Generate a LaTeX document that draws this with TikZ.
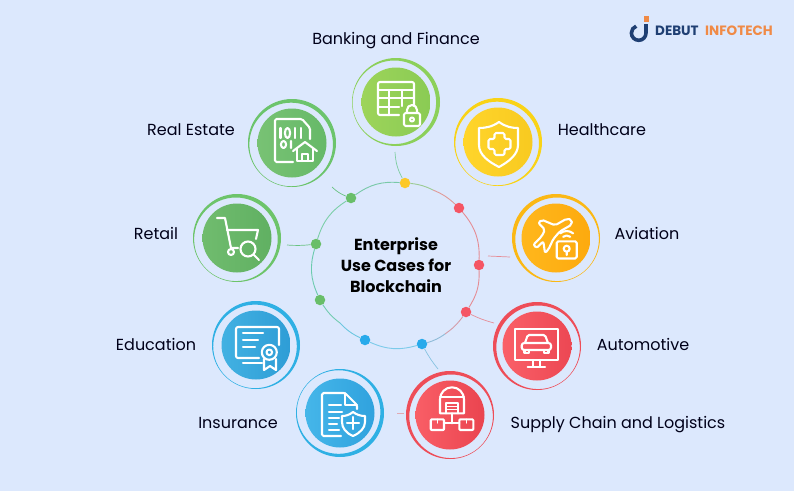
\documentclass[tikz,border=0pt]{standalone}
\usepackage{fontspec}
\setmainfont{Poppins}
\usetikzlibrary{calc}
\definecolor{bgblue}{HTML}{DCE8FD}
\definecolor{navy}{HTML}{1F3F73}
\definecolor{logoorange}{HTML}{F08A46}
\tikzset{
  lbl/.style={font=\fontsize{16}{18}\selectfont,text=black!90!blue},
  disc/.style={circle,minimum size=69pt,inner sep=0pt,shading angle=45},
  dot/.style={circle,minimum size=10.5pt,inner sep=0pt},
  stub/.style={line width=.7pt},
  icon/.style={draw=white,line width=2.1pt,line join=round,line cap=round}
}

\begin{document}
\begin{tikzpicture}[x=1pt,y=-1pt]
  \fill[bgblue] (0,0) rectangle (794,491);
  \useasboundingbox (0,0) rectangle (794,491);

  \foreach \name/\x/\y/\cola/\colb/\colr/\ang in {
    bank/396/102/9DD45A/8ACB54/8CD05A/170,
    real/292/143/78C274/66B968/6CC46C/120,
    retail/237/238/70BC6E/60B062/6DC46A/130,
    health/498/142/FFD52B/F8CA20/F9D316/120,
    aviation/556/238/FFB71C/FDAA0E/FBB814/50,
    auto/537/346/FA6068/EC4753/EE4D58/50,
    supply/450/415/F95E66/EA444F/EE4D58/50,
    edu/256/345/42B1E2/2E9DD6/2FB0E4/125,
    ins/340/413/45B6E9/30A2DE/2FB0E4/215}
  {
    \definecolor{ca}{HTML}{\cola}
    \definecolor{cb}{HTML}{\colb}
    \definecolor{cr}{HTML}{\colr}
    \fill[cr,even odd rule] (\x,\y) circle (44) ([shift={(\ang:1.7)}]\x,\y) circle (41.8);
    \node (\name) [disc,left color=ca,right color=cb] at (\x,\y) {};
  }

  \node (d1) [dot,fill={rgb,255:red,252;green,200;blue,40}] at (405,183) {};
  \node (d2) [dot,fill={rgb,255:red,245;green,85;blue,100}] at (459,208) {};
  \node (d3) [dot,fill={rgb,255:red,245;green,85;blue,100}] at (479,265) {};
  \node (d4) [dot,fill={rgb,255:red,245;green,85;blue,100}] at (466,312) {};
  \node (d5) [dot,fill={rgb,255:red,40;green,170;blue,235}] at (422,344) {};
  \node (d6) [dot,fill={rgb,255:red,40;green,170;blue,235}] at (365,340) {};
  \node (d7) [dot,fill={rgb,255:red,105;green,190;blue,105}] at (320,300) {};
  \node (d8) [dot,fill={rgb,255:red,105;green,190;blue,105}] at (316,244) {};
  \node (d9) [dot,fill={rgb,255:red,105;green,190;blue,105}] at (351,198) {};

  \coordinate (m1) at (433,190);
  \coordinate (m2) at (445,334);
  \coordinate (m3) at (340,323);

  \foreach \from/\to/\bend/\col in {
    d9/d1/20/79C9A8, d1/m1/10/9CCB94, m1/d2/10/E09A98,
    d2/d3/21/E58C94, d3/d4/17/E58C94, d4/m2/9/D49CA8, m2/d5/9/8FBBD8,
    d5/d6/20/7CCBEA, d6/m3/10/6CC6E0, m3/d7/10/72CCB0,
    d7/d8/20/6CCBAE, d8/d9/20/7CCFA8}
  {
    \definecolor{cl}{HTML}{\col}
    \draw[cl,line width=.9pt] (\from) to[bend left=\bend] (\to);
  }

  \coordinate (s1) at (395,152);
  \coordinate (s9) at (332,187);
  \coordinate (s8) at (287,245);
  \coordinate (s3) at (510,257);
  \coordinate (s3b) at (488,256);
  \coordinate (s4) at (494,323);
  \coordinate (s5) at (438,369);
  \coordinate (s10a) at (397,413);
  \coordinate (s10b) at (404,413);

  \draw[stub,color={rgb,255:red,125;green,205;blue,160}] (d1) to[bend left=12] (s1);
  \draw[stub,color={rgb,255:red,105;green,195;blue,130}] (d9) to[bend left=10] (s9);
  \draw[stub,color={rgb,255:red,105;green,195;blue,130}] (d8) to[bend left=5] (s8);
  \draw[stub,color={rgb,255:red,230;green,140;blue,150}] (s3b) -- (s3);
  \draw[stub,color={rgb,255:red,230;green,140;blue,150}] (d4) to[bend right=5] (s4);
  \draw[stub,color={rgb,255:red,135;green,195;blue,225}] (d5) to[bend right=5] (s5);
  \draw[stub,color={rgb,255:red,225;green,170;blue,180}] (s10a) -- (s10b);

  \begin{scope}[shift={(bank)},icon]
    \draw[rounded corners=2pt] (3,13) -- (-18,13) -- (-18,-20) -- (18,-20) -- (18,3);
    \draw (-18,-12) -- (18,-12) (-18,-4) -- (18,-4) (-18,5) -- (3,5);
    \draw (-7,-12) -- (-7,13) (6,-12) -- (6,4);
    \draw[rounded corners=1.5pt] (8,11) rectangle (24,24);
    \draw (11,11) -- (11,8) arc[start angle=180,end angle=360,radius=5] -- (21,11);
    \draw (16,17.5) circle (2);
  \end{scope}

  \begin{scope}[shift={(real)},icon]
    \draw[rounded corners=1.5pt] (1,19) -- (-17,19) -- (-17,-24) -- (10,-24) -- (18,-15) -- (18,-4);
    \draw (-11.5,-15) -- (-11.5,-5) (3,-15) -- (3,-5) (9,-15) -- (9,-5);
    \draw (-4.5,-10) ellipse (2.6 and 5);
    \draw (-8.5,1.5) ellipse (2.6 and 3.5) (-1,-2) -- (-1,5);
    \draw (1,8) -- (13,-1) -- (25,8);
    \draw (5,6) -- (5,18) -- (21,18) -- (21,6);
    \draw (10,18) -- (10,11) -- (16,11) -- (16,18);
  \end{scope}

  \begin{scope}[shift={(retail)},icon]
    \draw (-20,-20) -- (-12,-20) -- (-6,10) -- (1,10);
    \draw (-10,-8) -- (21,-8) -- (19,1);
    \draw (-6,14) circle (3);
    \draw (11,11) circle (7.5);
    \draw (16.5,16.5) -- (22,22);
  \end{scope}

  \begin{scope}[shift={(health)},icon]
    \draw (1,-20) .. controls (8,-15) and (14,-14) .. (20,-14) -- (20,3) .. controls (20,13) and (10,20) .. (1,25) .. controls (-9,20) and (-19,13) .. (-19,3) -- (-19,-14) .. controls (-13,-14) and (-6,-15) .. (1,-20) -- cycle;
    \draw[rounded corners=1.5pt] (-3.5,-9) -- (6.5,-9) -- (6.5,-3) -- (12.5,-3) -- (12.5,7) -- (6.5,7) -- (6.5,13) -- (-3.5,13) -- (-3.5,7) -- (-9.5,7) -- (-9.5,-3) -- (-3.5,-3) -- cycle;
  \end{scope}

  \begin{scope}[shift={(aviation)},icon]
    \draw[rounded corners=2pt] (-2.7,1) -- (-7.7,11.7) -- (-11,15) -- (-12.7,3.3) -- (-19.3,10) -- (-22.7,6.7) -- (-14.3,-1.7) -- (-11,-8.3) -- (-17.7,-15) -- (-14.3,-18.3) -- (-1,-12.7) -- (10.7,-19.3) -- (15.7,-18.3) -- (15.7,-13.3) -- (4,-6.7) -- cycle;
    \draw[rounded corners=1.5pt] (0.7,3.3) rectangle (20.7,20.5);
    \draw (10.7,10.7) circle (3) (10.7,13.7) -- (10.7,17);
    \draw ([shift={(-130:5.5)}]10.7,3) arc[start angle=-130,end angle=-50,radius=5.5];
    \draw ([shift={(-130:10)}]10.7,3) arc[start angle=-130,end angle=-50,radius=10];
  \end{scope}

  \begin{scope}[shift={(auto)},icon]
    \draw (-22,-17) rectangle (20.7,14);
    \draw (-3.7,14) -- (-3.7,20.7) (3,14) -- (3,20.7) (-9.3,20.7) -- (8,20.7);
    \draw[rounded corners=1.5pt] (-12,-3) -- (-9.3,-11) -- (8,-11) -- (11,-3);
    \draw[rounded corners=2.5pt] (-15.3,-3) rectangle (14,4);
    \draw (-12.5,4) -- (-12.5,7) -- (-8,7) -- (-8,4) (7,4) -- (7,7) -- (11.5,7) -- (11.5,4);
  \end{scope}

  \begin{scope}[shift={(supply)},icon]
    \draw (-10,-1.7) -- (-10,-15.7) arc[start angle=180,end angle=360,radius=12] -- (14,-1.7) -- cycle;
    \draw (-10,-18) -- (14,-18);
    \draw (-4,-1.7) -- (-4,-11.7) -- (8.3,-11.7) -- (8.3,-1.7);
    \draw[line width=.9pt] (-4,-8.5) -- (8.3,-8.5) (-4,-5.5) -- (8.3,-5.5);
    \draw (1.7,-1.7) -- (1.7,8.3) (-6,8.3) -- (9.3,8.3);
    \draw[rounded corners=1pt] (-19.3,4.3) rectangle (-6,15) (9.3,4.3) rectangle (23.3,15);
    \draw[line width=1.4pt] (-12.7,4.3) -- (-12.7,8) (16.3,4.3) -- (16.3,8);
  \end{scope}

  \begin{scope}[shift={(edu)},icon]
    \draw[rounded corners=2pt] (23,0) -- (23,-18) -- (-20,-18) -- (-20,13) -- (3,13);
    \draw (-13,-12) -- (7,-12) (-13,-5) -- (2,-5) (-13,2) -- (-1,2) (-13,18) -- (6,18);
    \draw (13.3,7.3) circle (7.5) (13.3,7.3) circle (2.8);
    \draw (8,14) -- (8,25) -- (14,21) -- (20,25) -- (20,14);
  \end{scope}

  \begin{scope}[shift={(ins)},icon]
    \draw[rounded corners=1.5pt] (1,23) -- (-18,23) -- (-18,-20) -- (5,-20) -- (17,-8) -- (17,-4);
    \draw (5,-20) -- (5,-8) -- (17,-8);
    \draw (-11,-8) -- (1,-8) (-11,-1) -- (2,-1) (-11,5) -- (-1,5) (-11,11) -- (-3,11) (-11,17) -- (-1,17);
    \draw (13,-1) .. controls (17,2) and (21,3) .. (25,3) -- (25,9) .. controls (25,15) and (20,20) .. (13,23) .. controls (6,20) and (2,15) .. (2,9) -- (2,3) .. controls (6,3) and (9,2) .. (13,-1) -- cycle;
    \draw (13,4) -- (13,16) (7,10) -- (19,10);
  \end{scope}

  \node (bankl) [lbl] at (396,41) {Banking and Finance};
  \node (reall) [lbl] at (191,130) {Real Estate};
  \node (healthl) [lbl] at (602,130) {Healthcare};
  \node (retaill) [lbl] at (156,233) {Retail};
  \node (aviationl) [lbl] at (647,233) {Aviation};
  \node (edul) [lbl] at (156,344) {Education};
  \node (autol) [lbl] at (643,344) {Automotive};
  \node (insl) [lbl] at (238,423) {Insurance};
  \node (supplyl) [lbl] at (618,425) {Supply Chain and Logistics};

  \node (hub) [align=center,font=\fontsize{16}{21}\selectfont\bfseries,text=black] at (396,265) {Enterprise\\Use Cases for\\Blockchain};

  \draw[navy,line width=3.6pt] (646,24) -- (646,33) arc[start angle=0,end angle=250,radius=7.3];
  \fill[logoorange] (643.5,16) rectangle (649,21.5);
  \node (debut) [anchor=west,inner sep=0pt,text=navy,font=\fontsize{13.5}{14}\selectfont\bfseries] at (655,31) {DEBUT};
  \node (infotech) [anchor=west,inner sep=0pt,text=logoorange,font=\fontsize{13.5}{14}\selectfont\bfseries] at (705,31) {INFOTECH};
\end{tikzpicture}
\end{document}
